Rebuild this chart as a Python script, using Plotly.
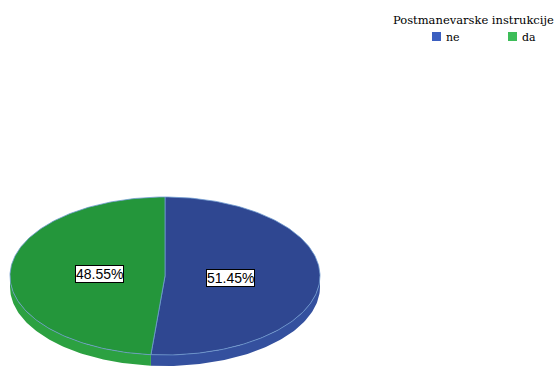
import numpy as np
import plotly.graph_objects as go

# Response categories and their shares (percent)
categories = ["ne", "da"]
shares = [51.45, 48.55]
legend_title = "Postmanevarske instrukcije"

# Colours: top faces, rim (side) faces, legend swatches
face_colors = ["#2f4791", "#24963b"]
rim_colors = ["#34509e", "#2ca141"]
swatch_colors = ["#3b5fc0", "#3dbd59"]

W, H = 559, 367
cx, cy = 165, 276          # ellipse centre (pixels)
a, b = 155, 79             # horizontal / vertical radii
depth = 11                 # thickness of the disc


def ellipse_pt(theta_deg, dy=0.0):
    t = np.radians(theta_deg)
    return cx + a * np.sin(t), cy - b * np.cos(t) + dy


fig = go.Figure()

# slice angular ranges, clockwise from 12 o'clock
total = sum(shares)
bounds = np.concatenate([[0], np.cumsum(shares) / total * 360])

# rim of the disc (only the front half is visible)
for i, name in enumerate(categories):
    lo, hi = max(bounds[i], 90), min(bounds[i + 1], 270)
    if hi <= lo:
        continue
    th = np.linspace(lo, hi, 80)
    x1, y1 = ellipse_pt(th)
    x2, y2 = ellipse_pt(th[::-1], depth)
    fig.add_trace(go.Scatter(
        x=np.concatenate([x1, x2]), y=np.concatenate([y1, y2]),
        fill="toself", mode="lines", line=dict(width=0, color=rim_colors[i]),
        fillcolor=rim_colors[i], showlegend=False, hoverinfo="skip"))

# top faces of the slices
for i, name in enumerate(categories):
    th = np.linspace(bounds[i], bounds[i + 1], 160)
    ex, ey = ellipse_pt(th)
    fig.add_trace(go.Scatter(
        x=np.concatenate([[cx], ex, [cx]]), y=np.concatenate([[cy], ey, [cy]]),
        fill="toself", mode="lines", line=dict(width=0.8, color="#6f9ad0"),
        fillcolor=face_colors[i], showlegend=False, name=name,
        hoverinfo="name"))

# percentage labels placed at each slice's mid angle
for i, val in enumerate(shares):
    mid = (bounds[i] + bounds[i + 1]) / 2
    lx = cx + a * 0.42 * np.sin(np.radians(mid))
    ly = cy - b * 0.42 * np.cos(np.radians(mid))
    fig.add_annotation(
        x=lx, y=ly, text=f"{val:.2f}%", showarrow=False,
        font=dict(family="Liberation Sans, Arial", size=14, color="black"),
        bgcolor="white", bordercolor="black", borderwidth=1, borderpad=0)

# legend: title, swatches and entry labels
fig.add_annotation(
    x=473, y=20, text=legend_title, showarrow=False,
    xanchor="center", yanchor="middle",
    font=dict(family="DejaVu Serif", size=11.5, color="black"))
leg_x = [432, 508]
for i, name in enumerate(categories):
    fig.add_shape(type="rect", x0=leg_x[i], x1=leg_x[i] + 9, y0=32, y1=41,
                  fillcolor=swatch_colors[i], line=dict(width=0))
    fig.add_annotation(
        x=leg_x[i] + 12, y=37, text=name, showarrow=False,
        xanchor="left", yanchor="middle",
        font=dict(family="DejaVu Serif", size=11, color="black"))

fig.update_layout(
    width=W, height=H,
    margin=dict(l=0, r=0, t=0, b=0),
    paper_bgcolor="white", plot_bgcolor="white",
    xaxis=dict(range=[0, W], visible=False, fixedrange=True),
    yaxis=dict(range=[H, 0], visible=False, fixedrange=True),
    showlegend=False,
)

fig.write_html("out.html")
